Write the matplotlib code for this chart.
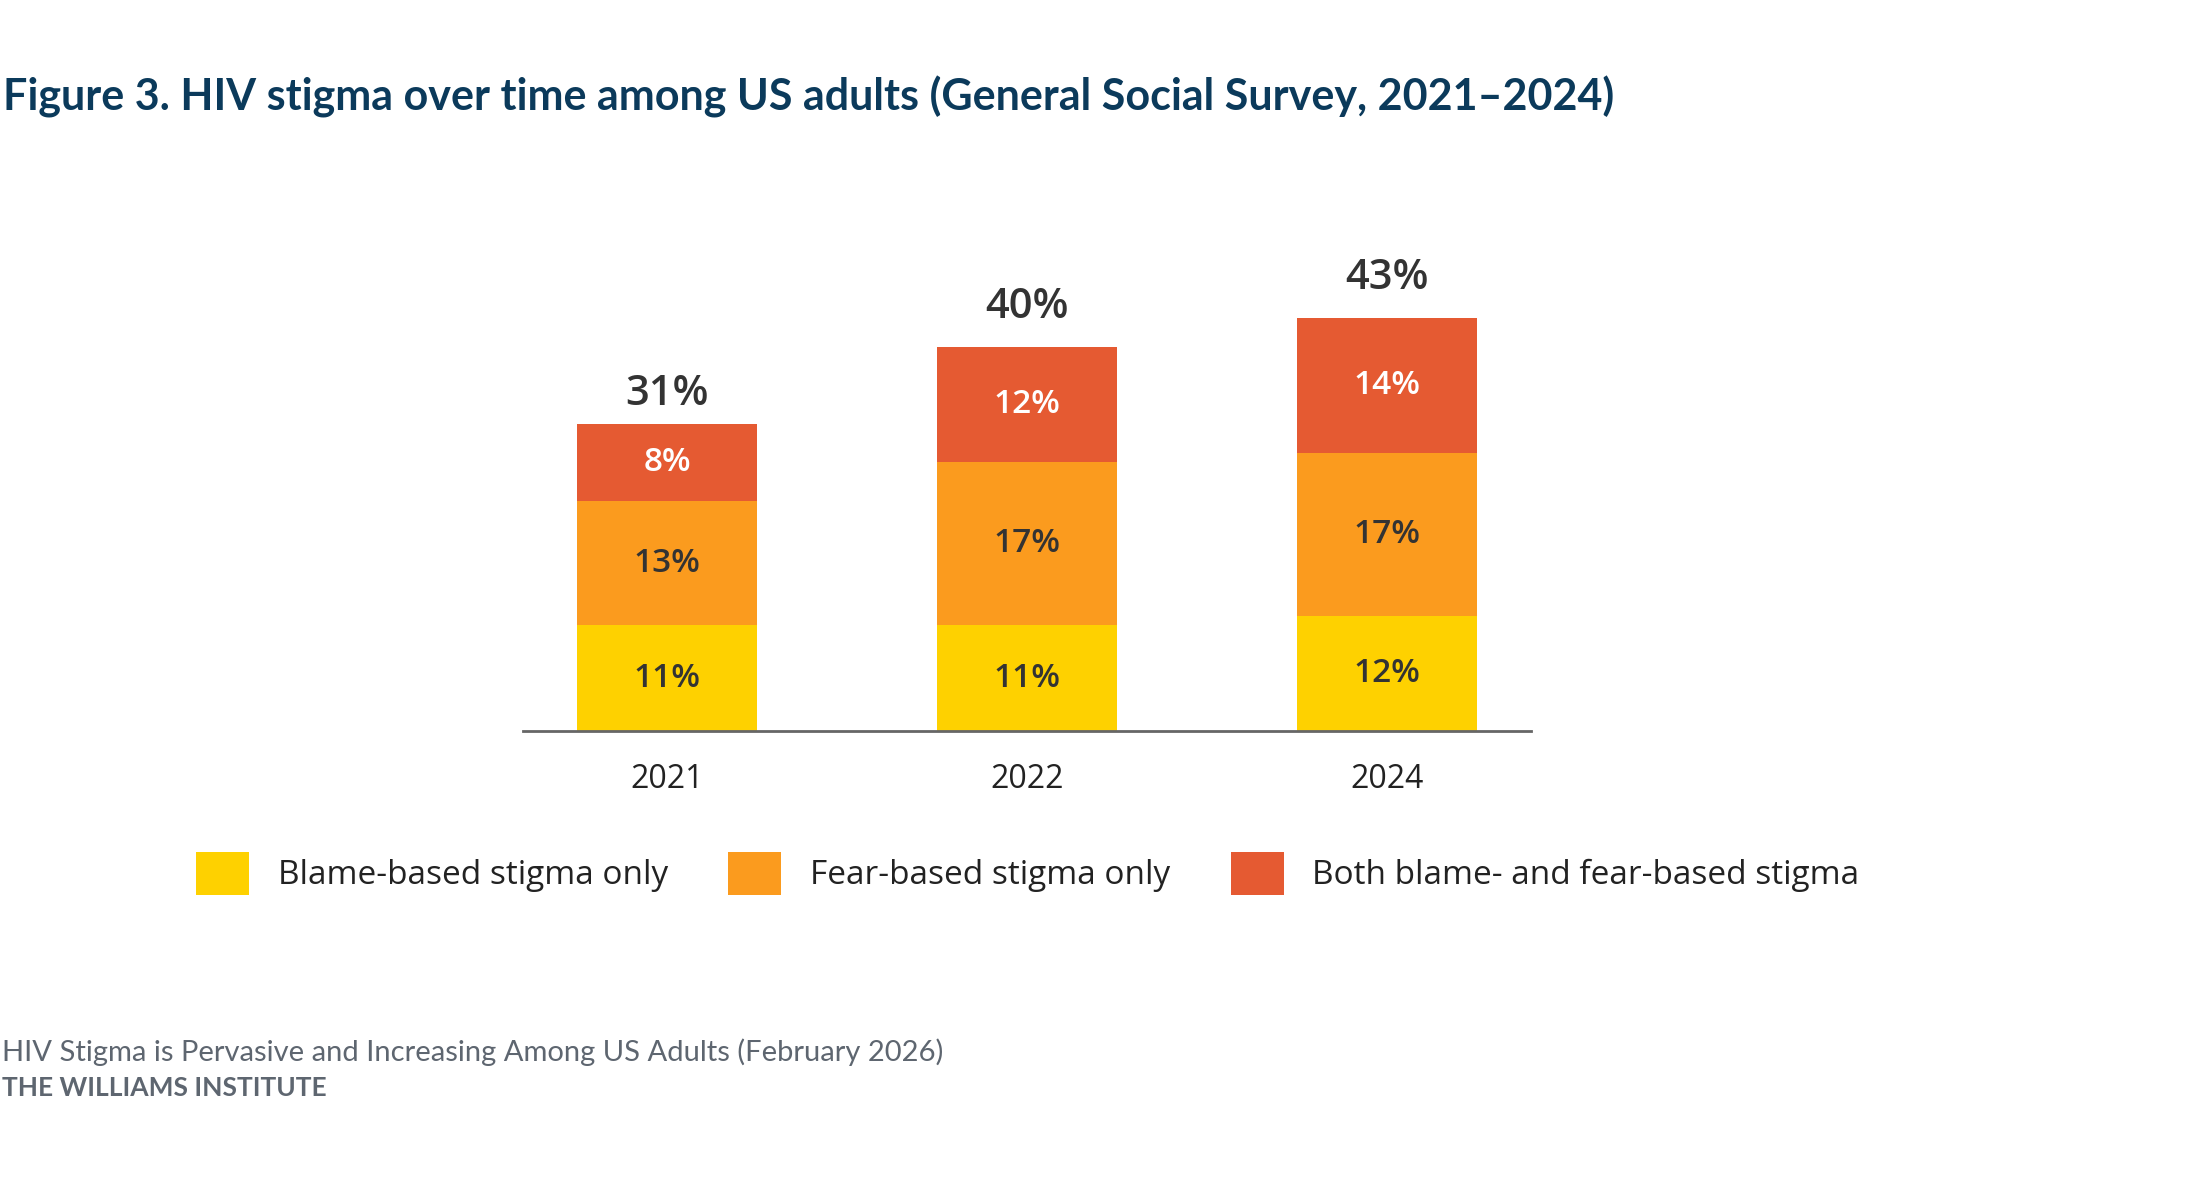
import matplotlib
matplotlib.use("Agg")
import matplotlib.pyplot as plt
from matplotlib.patches import Patch

years = ["2021", "2022", "2024"]
blame_only = [11, 11, 12]
fear_only = [13, 17, 17]
both = [8, 12, 14]
totals = [31, 40, 43]
series_names = ["Blame-based stigma only", "Fear-based stigma only",
                "Both blame- and fear-based stigma"]
colors = ["#FED100", "#FB9B1E", "#E55A32"]
label_colors = ["#333333", "#333333", "#FFFFFF"]

W, H = 2200, 1179
fig = plt.figure(figsize=(W / 100, H / 100), dpi=100)
fig.patch.set_facecolor("white")

ax = fig.add_axes([523 / W, (H - 731) / H, 1008 / W, 480 / H])
x = list(range(len(years)))
bottoms = [0] * len(years)
for vals, col, tcol in zip([blame_only, fear_only, both], colors, label_colors):
    ax.bar(x, vals, width=0.5, bottom=bottoms, color=col, edgecolor="none")
    for xi, v, b in zip(x, vals, bottoms):
        ax.text(xi, b + v / 2, f"{v}%", ha="center", va="center",
                fontsize=24, color=tcol, fontfamily="Open Sans", fontweight="semibold")
    bottoms = [b + v for b, v in zip(bottoms, vals)]

for xi, t in zip(x, totals):
    ax.text(xi, t + 4.15, f"{t}%", ha="center", va="center", fontsize=30,
            color="#333333", fontfamily="Open Sans", fontweight="semibold")

ax.set_xlim(-0.4, 2.4)
ax.set_ylim(0, 50)
ax.set_xticks(x)
ax.set_xticklabels(years, fontsize=23, fontfamily="Open Sans", color="#222222")
ax.tick_params(axis="x", length=0, pad=23)
ax.set_yticks([])
for s in ["top", "left", "right"]:
    ax.spines[s].set_visible(False)
ax.spines["bottom"].set_color("#666666")
ax.spines["bottom"].set_linewidth(2)
ax.set_facecolor("none")

handles = [Patch(facecolor=c, edgecolor="none") for c in colors]
fig.legend(handles, series_names, loc="center left",
           bbox_to_anchor=(196 / W, (H - 873.5) / H), ncol=3, frameon=False,
           prop={"family": "Open Sans", "size": 24}, labelcolor="#222222",
           handlelength=1.59, handleheight=1.59, handletextpad=0.87,
           columnspacing=1.8, borderaxespad=0, borderpad=0)

fig.text(3 / W, 1 - 97 / H, "Figure 3. HIV stigma over time among US adults (General Social Survey, 2021\u20132024)",
         ha="left", va="center", fontsize=31, fontweight="bold", fontfamily="Lato",
         color="#0B3A5B")

fig.text(2 / W, 1 - 1052.5 / H, "HIV Stigma is Pervasive and Increasing Among US Adults (February 2026)",
         ha="left", va="center", fontsize=21, fontweight="normal", fontfamily="Lato",
         color="#5E6670")
fig.text(2 / W, 1 - 1088 / H, "THE WILLIAMS INSTITUTE",
         ha="left", va="center", fontsize=19, fontweight="bold", fontfamily="Lato",
         color="#5E6670")

fig.savefig("out.png", dpi=100, facecolor="white")
